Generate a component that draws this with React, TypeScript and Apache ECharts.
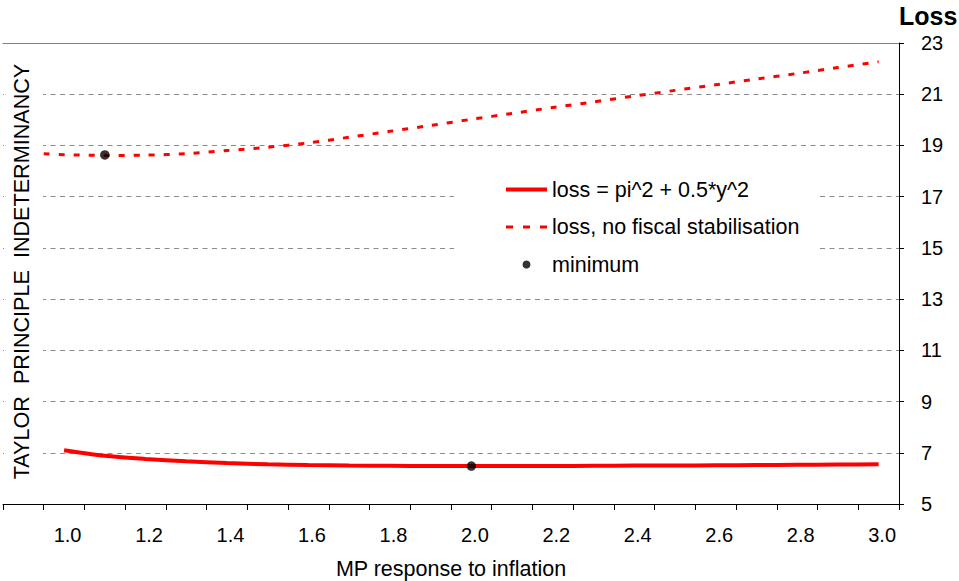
import React, { useEffect, useRef } from "react";
import * as echarts from "echarts";

// x-axis categories (tick labels shown for 1.0, 1.2, ... 3.0)
const categories = [
  "0.9", "1.0", "1.1", "1.2", "1.3", "1.4", "1.5", "1.6", "1.7", "1.8", "1.9",
  "2.0", "2.1", "2.2", "2.3", "2.4", "2.5", "2.6", "2.7", "2.8", "2.9", "3.0",
];

// loss = pi^2 + 0.5*y^2
const lossX = [1.0, 1.1, 1.2, 1.3, 1.4, 1.5, 1.6, 1.7, 1.8, 1.9, 2.0, 2.1, 2.2, 2.3, 2.4, 2.5, 2.6, 2.7, 2.8, 2.9, 3.0];
const lossY = [7.1, 6.88, 6.76, 6.67, 6.6, 6.55, 6.52, 6.5, 6.49, 6.48, 6.48, 6.48, 6.48, 6.49, 6.5, 6.5, 6.51, 6.52, 6.53, 6.54, 6.55];

// loss, no fiscal stabilisation
const noFiscalX = [0.95, 1.0, 1.1, 1.2, 1.3, 1.4, 1.5, 1.6, 1.7, 1.8, 1.9, 2.0, 2.1, 2.2, 2.3, 2.4, 2.5, 2.6, 2.7, 2.8, 2.9, 3.0];
const noFiscalY = [18.68, 18.64, 18.61, 18.62, 18.68, 18.8, 18.93, 19.1, 19.32, 19.55, 19.78, 20.02, 20.25, 20.48, 20.7, 20.93, 21.15, 21.37, 21.59, 21.81, 22.04, 22.27];

// minimum points
const minimumX = [1.1, 2.0];
const minimumY = [18.63, 6.48];

const seriesNames = ["loss = pi^2 + 0.5*y^2", "loss, no fiscal stabilisation", "minimum"];

const FONT = '"Liberation Sans", Arial, Helvetica, sans-serif';

const zip = (xs: number[], ys: number[]) => xs.map((x, i) => [x, ys[i]]);

export default function App() {
  const ref = useRef<HTMLDivElement>(null);

  useEffect(() => {
    if (!ref.current) return;
    const chart = echarts.init(ref.current, undefined, { renderer: "svg" });
    chart.setOption({
      animation: false,
      backgroundColor: "#ffffff",
      textStyle: { fontFamily: FONT, color: "#000" },
      grid: { left: 3, right: 60, top: 43, bottom: 77, containLabel: false, outerBoundsMode: "none" },
      xAxis: [
        {
          type: "category",
          data: categories,
          boundaryGap: true,
          position: "bottom",
          name: "MP response to inflation",
          nameLocation: "middle",
          nameGap: 54,
          nameTextStyle: { fontSize: 21.5, color: "#000", fontFamily: FONT },
          axisLine: { show: true, lineStyle: { color: "#000", width: 1 } },
          axisTick: { show: true, interval: 0, length: 6, lineStyle: { color: "#000" } },
          axisLabel: {
            interval: (index: number) => index % 2 === 1,
            fontSize: 20,
            color: "#000",
            margin: 21,
            padding: [0, 0, 0, 7],
            fontFamily: FONT,
          },
          splitLine: { show: false },
        },
        {
          type: "value",
          min: 0.85,
          max: 3.05,
          position: "top",
          axisLine: { show: true, onZero: false, lineStyle: { color: "#808080", width: 1 } },
          axisTick: { show: false },
          axisLabel: { show: false },
          splitLine: { show: false },
        },
      ],
      yAxis: {
        type: "value",
        position: "right",
        min: 5,
        max: 23,
        interval: 2,
        name: "Loss",
        nameLocation: "end",
        nameGap: 15,
        nameTextStyle: {
          fontSize: 25,
          fontWeight: "bold",
          color: "#000",
          align: "left",
          verticalAlign: "bottom",
          fontFamily: FONT,
        },
        axisLine: { show: true, lineStyle: { color: "#000", width: 1 } },
        axisTick: { show: true, length: 5, lineStyle: { color: "#000" } },
        axisLabel: { fontSize: 20, color: "#000", margin: 22, fontFamily: FONT },
        splitLine: { show: true, lineStyle: { color: "#8c8c8c", width: 1, type: [5, 4.5] } },
      },
      legend: {
        orient: "vertical",
        left: 454,
        top: 168,
        padding: [10.5, 18, 9.5, 52],
        backgroundColor: "#ffffff",
        itemWidth: 41,
        itemHeight: 8,
        itemGap: 15.5,
        selectedMode: false,
        textStyle: { fontSize: 21.5, color: "#000", fontFamily: FONT },
        data: [
          { name: seriesNames[0], icon: "path://M0 0H41V4H0Z", itemStyle: { color: "#ff0000", borderWidth: 0 } },
          {
            name: seriesNames[1],
            icon: "path://M0 0H7V3H0ZM17 0H24V3H17ZM34 0H41V3H34Z",
            itemStyle: { color: "#ff0000", borderWidth: 0 },
          },
          { name: seriesNames[2], icon: "circle", itemStyle: { color: "#000000", borderWidth: 0 } },
        ],
      },
      graphic: [
        {
          type: "rect",
          z: 1,
          shape: { x: 4, y: 45, width: 39, height: 457 },
          style: { fill: "#ffffff" },
          silent: true,
        },
        {
          type: "text",
          z: 6,
          x: 21.5,
          y: 271.5,
          rotation: Math.PI / 2,
          style: {
            text: "TAYLOR  PRINCIPLE  INDETERMINANCY",
            fontSize: 21.6,
            fontFamily: FONT,
            fill: "#000",
            align: "center",
            verticalAlign: "middle",
          },
          silent: true,
        },
      ],
      series: [
        {
          name: seriesNames[0],
          type: "line",
          xAxisIndex: 1,
          data: zip(lossX, lossY),
          symbol: "none",
          smooth: 0.3,
          color: "#ff0000",
          lineStyle: { color: "#ff0000", width: 4 },
          z: 3,
        },
        {
          name: seriesNames[1],
          type: "line",
          xAxisIndex: 1,
          data: zip(noFiscalX, noFiscalY),
          symbol: "none",
          smooth: 0.3,
          color: "#ff0000",
          lineStyle: { color: "#ff0000", width: 3, type: [6, 9] },
          z: 3,
        },
        {
          name: seriesNames[2],
          type: "scatter",
          xAxisIndex: 1,
          data: zip(minimumX, minimumY),
          symbol: "circle",
          symbolSize: 9.5,
          itemStyle: { color: "#000000" },
          z: 5,
        },
      ],
    });
    return () => chart.dispose();
  }, []);

  return (
    <div
      ref={ref}
      style={{ position: "absolute", left: 0, top: 0, width: 959, height: 581 }}
    />
  );
}
